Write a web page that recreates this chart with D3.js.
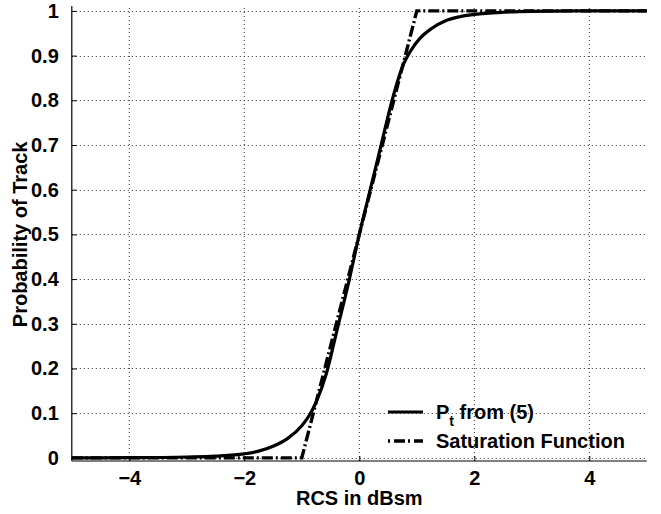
<!DOCTYPE html>
<html>
<head>
<meta charset="utf-8">
<script src="https://cdn.jsdelivr.net/npm/d3@7"></script>
<style>
  html, body { margin: 0; padding: 0; background: #fff; }
  svg { display: block; }
  text { font-family: "Liberation Sans", Arial, Helvetica, sans-serif; font-weight: bold; fill: #000; }
</style>
</head>
<body>
<svg id="chart" width="661" height="514"></svg>
<script>
// ---- data ----
const xTicks = [-4, -2, 0, 2, 4];
const xTickLabels = ["\u22124", "\u22122", "0", "2", "4"];
const yTicks = [0, 0.1, 0.2, 0.3, 0.4, 0.5, 0.6, 0.7, 0.8, 0.9, 1];
const yTickLabels = ["0", "0.1", "0.2", "0.3", "0.4", "0.5", "0.6", "0.7", "0.8", "0.9", "1"];

// P_t from (5)
const ptX = [-5, -4, -3, -2.5, -2, -1.75, -1.5, -1.25, -1, -0.86, -0.75, -0.57, -0.38, -0.19, 0, 0.19, 0.38, 0.57, 0.75, 0.9, 1.05, 1.25, 1.5, 1.75, 2, 2.5, 3, 4, 5];
const ptY = [0, 0.0004, 0.002, 0.004, 0.009, 0.015, 0.026, 0.043, 0.072, 0.097, 0.125, 0.19, 0.29, 0.39, 0.5, 0.6, 0.7, 0.8, 0.875, 0.912, 0.938, 0.96, 0.978, 0.987, 0.992, 0.997, 0.999, 1, 1];

// Saturation function
const satX = [-5, -1, 1, 5];
const satY = [0, 0, 1, 1];

const seriesNames = ["P", "Saturation Function"];

// ---- layout ----
const svg = d3.select("#chart");
const x = d3.scaleLinear().domain([-5, 5]).range([71.8, 646.8]);
const y = d3.scaleLinear().domain([-0.007, 1.011]).range([461, 6]);

// grid
const grid = svg.append("g");
grid.selectAll("line.v").data(xTicks).enter().append("line")
  .attr("x1", d => x(d)).attr("x2", d => x(d))
  .attr("y1", y.range()[0]).attr("y2", y.range()[1])
  .attr("stroke", "#333").attr("stroke-width", 1).attr("stroke-dasharray", "1,3");
grid.selectAll("line.h").data(yTicks).enter().append("line")
  .attr("x1", x.range()[0]).attr("x2", x.range()[1])
  .attr("y1", d => Math.round(y(d)) + 0.5).attr("y2", d => Math.round(y(d)) + 0.5)
  .attr("stroke", "#333").attr("stroke-width", 1).attr("stroke-dasharray", "1,3");

// axes (MATLAB style, inward ticks)
const yAxis = d3.axisLeft(y).tickValues(yTicks).tickSize(-5).tickPadding(13)
  .tickFormat((d, i) => yTickLabels[i]);
const gy = svg.append("g").attr("transform", `translate(${x.range()[0]},0)`).call(yAxis);
const xAxis = d3.axisBottom(x).tickValues(xTicks).tickSize(-5).tickPadding(10)
  .tickFormat((d, i) => xTickLabels[i]);
const gx = svg.append("g").attr("transform", `translate(0,${y.range()[0]})`).call(xAxis);
[gx, gy].forEach(g => {
  g.select(".domain").attr("stroke", "#000").attr("stroke-width", 1.2);
  g.selectAll(".tick line").attr("stroke", "#000");
  g.selectAll(".tick text").style("font-size", "20px").style("font-weight", "bold")
    .style("font-family", '"Liberation Sans", Arial, sans-serif');
});
gy.select(".domain").attr("d", `M0,${y.range()[0]}V${y.range()[1]}`);
gx.select(".domain").attr("d", `M${x.range()[0]},0H${x.range()[1]}`);

// lines
const ptData = ptX.map((v, i) => [v, ptY[i]]);
const satData = satX.map((v, i) => [v, satY[i]]);

svg.append("path").datum(ptData)
  .attr("d", d3.line().x(d => x(d[0])).y(d => y(d[1])).curve(d3.curveMonotoneX))
  .attr("fill", "none").attr("stroke", "#000").attr("stroke-width", 3.2);
svg.append("path").datum(satData)
  .attr("d", d3.line().x(d => x(d[0])).y(d => y(d[1])).curve(d3.curveLinear))
  .attr("fill", "none").attr("stroke", "#000").attr("stroke-width", 3.4)
  .attr("stroke-dasharray", "11,3,2,3");

// axis titles
svg.append("text").attr("x", (x.range()[0] + x.range()[1]) / 2).attr("y", 505)
  .attr("text-anchor", "middle").style("font-size", "20px").text("RCS in dBsm");
svg.append("text")
  .attr("transform", `translate(27,${(y(0) + y(1)) / 2}) rotate(-90)`)
  .attr("text-anchor", "middle").style("font-size", "20px").text("Probability of Track");

// legend (transparent, no box)
const lg = svg.append("g");
lg.append("line").attr("x1", 388).attr("x2", 423).attr("y1", 412).attr("y2", 412)
  .attr("stroke", "#000").attr("stroke-width", 3);
lg.append("line").attr("x1", 388).attr("x2", 423).attr("y1", 441).attr("y2", 441)
  .attr("stroke", "#000").attr("stroke-width", 3.4).attr("stroke-dasharray", "2,4,11,3");
const t1 = lg.append("text").attr("x", 436).attr("y", 419).style("font-size", "20px");
t1.append("tspan").text(seriesNames[0]);
t1.append("tspan").attr("dy", 7).style("font-size", "14px").text("t");
t1.append("tspan").attr("dy", -7).text(" from (5)");
lg.append("text").attr("x", 436).attr("y", 448).style("font-size", "20px").text(seriesNames[1]);
</script>
</body>
</html>
